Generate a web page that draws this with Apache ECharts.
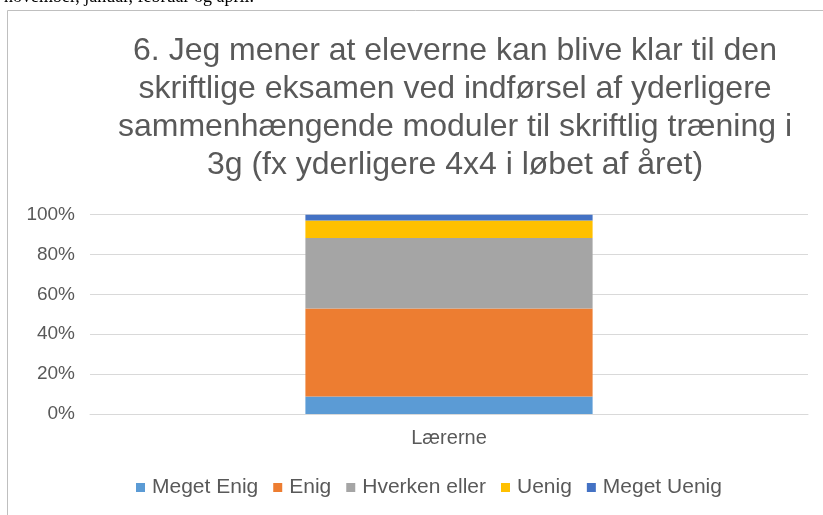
<!DOCTYPE html>
<html>
<head>
<meta charset="utf-8">
<script src="https://cdn.jsdelivr.net/npm/echarts@6/dist/echarts.min.js"></script>
<style>
html,body{margin:0;padding:0;background:#fff;}
#c{width:823px;height:515px;}
</style>
</head>
<body>
<div id="c"></div>
<script>
const categories = ['Lærerne'];
const seriesNames = ['Meget Enig', 'Enig', 'Hverken eller', 'Uenig', 'Meget Uenig'];
const megetEnig = [8.8];
const enig = [44.1];
const hverken = [35.3];
const uenig = [8.8];
const megetUenig = [2.9];
const seriesColors = ['#5B9BD5', '#ED7D31', '#A5A5A5', '#FFC000', '#4472C4'];
const titleLines = [
  '6. Jeg mener at eleverne kan blive klar til den',
  'skriftlige eksamen ved indførsel af yderligere',
  'sammenhængende moduler til skriftlig træning i',
  '3g (fx yderligere 4x4 i løbet af året)'
];
const topText = 'november, januar, februar og april.';

const values = [megetEnig, enig, hverken, uenig, megetUenig];
const font = '"Liberation Sans", Arial, Helvetica, sans-serif';
const chart = echarts.init(document.getElementById('c'), null, {renderer: 'canvas'});
chart.setOption({
  animation: false,
  backgroundColor: '#fff',
  title: {
    text: titleLines.join('\n'),
    left: 455,
    top: 32,
    padding: 0,
    textAlign: 'center',
    textStyle: {
      fontFamily: font,
      fontSize: 32,
      fontWeight: 'normal',
      color: '#595959',
      lineHeight: 38
    }
  },
  graphic: [
    {
      type: 'rect',
      shape: {x: 7.5, y: 10.5, width: 900, height: 600},
      style: {fill: 'none', stroke: '#BFBFBF', lineWidth: 1},
      silent: true
    },
    {
      type: 'text',
      x: 4, y: -3,
      style: {
        text: topText,
        font: '18px "Liberation Serif", "Times New Roman", serif',
        fill: '#000',
        verticalAlign: 'middle',
        align: 'left'
      },
      silent: true
    }
  ],
  legend: {
    data: seriesNames,
    left: 136,
    top: 477,
    padding: 0,
    itemWidth: 9,
    itemHeight: 9,
    itemGap: 15,
    icon: 'rect',
    textStyle: {fontFamily: font, fontSize: 21, color: '#595959', padding: [0, 0, 0, 2]}
  },
  grid: {left: 90, right: 15, top: 214.5, bottom: 101, containLabel: false},
  xAxis: {
    type: 'category',
    data: categories,
    axisLine: {show: true, lineStyle: {color: '#D9D9D9', width: 1}},
    axisTick: {show: false},
    axisLabel: {fontFamily: font, fontSize: 20, color: '#595959', margin: 14}
  },
  yAxis: {
    type: 'value',
    min: 0,
    max: 100,
    interval: 20,
    axisLine: {show: false},
    axisTick: {show: false},
    splitLine: {lineStyle: {color: '#D9D9D9', width: 1}},
    axisLabel: {fontFamily: font, fontSize: 19, color: '#595959', margin: 15, formatter: '{value}%'}
  },
  series: seriesNames.map((name, i) => ({
    name: name,
    type: 'bar',
    stack: 'total',
    barWidth: '40%',
    data: values[i],
    itemStyle: {color: seriesColors[i]}
  }))
});
</script>
</body>
</html>
